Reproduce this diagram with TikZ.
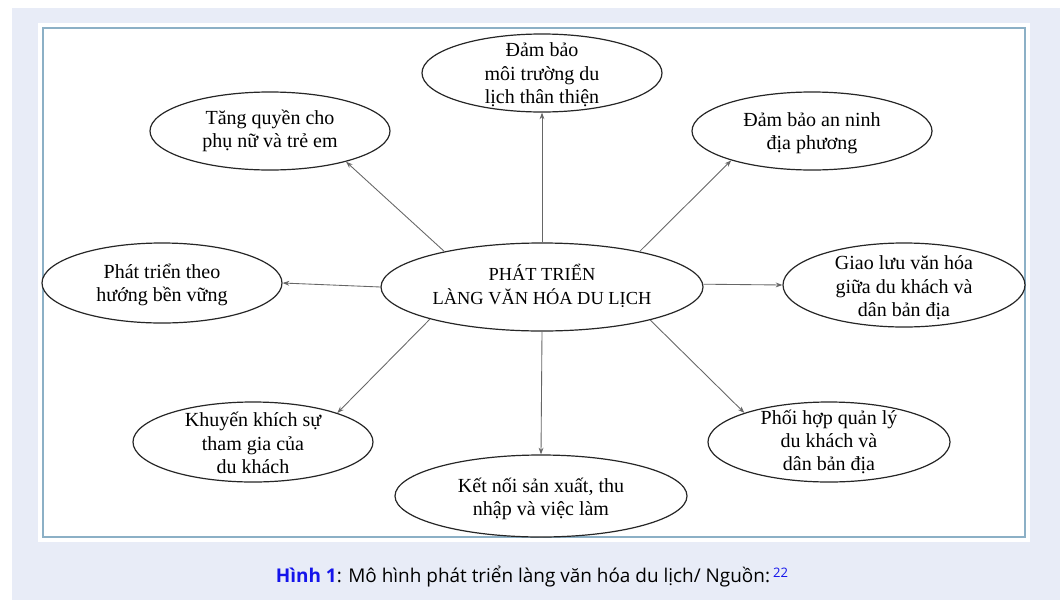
\documentclass[tikz,border=0pt]{standalone}
\usepackage{fontspec}
\setmainfont{Liberation Serif}
\newfontfamily\capfont{Open Sans}
\usetikzlibrary{shapes.geometric,arrows.meta}
\definecolor{pagebg}{RGB}{232,236,247}
\definecolor{frameline}{RGB}{140,176,198}
\definecolor{capblue}{RGB}{20,20,235}
\tikzset{
  ell/.style={ellipse, draw=black!85, line width=0.9pt, inner sep=0pt, fill=white},
  lbl/.style={align=center, inner sep=0pt, font=\fontsize{15}{17.5}\selectfont},
  conn/.style={draw=black!60, line width=0.65pt, -{Stealth[length=5pt,width=3.6pt]}}
}
\begin{document}
\begin{tikzpicture}[x=0.75pt,y=-0.75pt]
\useasboundingbox (0,0) rectangle (1060,600);
\fill[white] (0,0) rectangle (1060,600);
\fill[pagebg] (12,8) rectangle (1060,600);
\fill[white] (38,23) rectangle (1030,542);
\draw[frameline, line width=1.1pt] (43,28) rectangle (1025,537);

% ellipses
\node[ell, minimum width=241.5pt, minimum height=66pt] (C) at (542,287) {};
\node[ell, minimum width=180pt, minimum height=58.5pt] (T) at (542,73) {};
\node[ell, minimum width=180pt, minimum height=58.5pt] (TL) at (270,131) {};
\node[ell, minimum width=180pt, minimum height=58.5pt] (TR) at (812,131) {};
\node[ell, minimum width=181.5pt, minimum height=63pt] (R) at (904,285) {};
\node[ell, minimum width=180pt, minimum height=60pt] (L) at (162,283) {};
\node[ell, minimum width=180pt, minimum height=60pt] (BL) at (253,442) {};
\node[ell, minimum width=219pt, minimum height=61.5pt] (B) at (541,496) {};
\node[ell, minimum width=181.5pt, minimum height=60pt] (BR) at (829,442) {};

% labels
\node[lbl, font=\fontsize{13.8}{18.5}\selectfont] (tC) at (542,286) {PHÁT TRIỂN\\LÀNG VĂN HÓA DU LỊCH};
\node[lbl] (tT) at (542,75) {Đảm bảo\\môi trường du\\lịch thân thiện};
\node[lbl] (tTL) at (270,131) {Tăng quyền cho\\phụ nữ và trẻ em};
\node[lbl] (tTR) at (812,133) {Đảm bảo an ninh\\địa phương};
\node[lbl] (tR) at (904,288) {Giao lưu văn hóa\\giữa du khách và\\dân bản địa};
\node[lbl] (tL) at (162,285) {Phát triển theo\\hướng bền vững};
\node[lbl] (tBL) at (253,443) {Khuyến khích sự\\tham gia của\\du khách};
\node[lbl] (tB) at (541,499) {Kết nối sản xuất, thu\\nhập và việc làm};
\node[lbl] (tBR) at (829,442) {Phối hợp quản lý\\du khách và\\dân bản địa};

% connectors
\draw[conn] (C.90) -- (T.270);
\draw[conn] (C.160) -- (TL.338);
\draw[conn] (C.20) -- (TR.200);
\draw[conn] (C.1) -- (R.180);
\draw[conn] (C.180) -- (L.0);
\draw[conn] (C.196) -- (BL.19);
\draw[conn] (C.270) -- (B.90);
\draw[conn] (C.343) -- (BR.161);

% caption
\node[inner sep=0pt, font=\capfont\fontsize{14.2}{16}\selectfont] (cap) at (532,577)
  {\textcolor{capblue}{\bfseries Hình 1}: Mô hình phát triển làng văn hóa du lịch/ Nguồn:\,\textcolor{capblue}{\raisebox{0.55ex}{\fontsize{9.8}{11}\selectfont 22}}};
\end{tikzpicture}
\end{document}
